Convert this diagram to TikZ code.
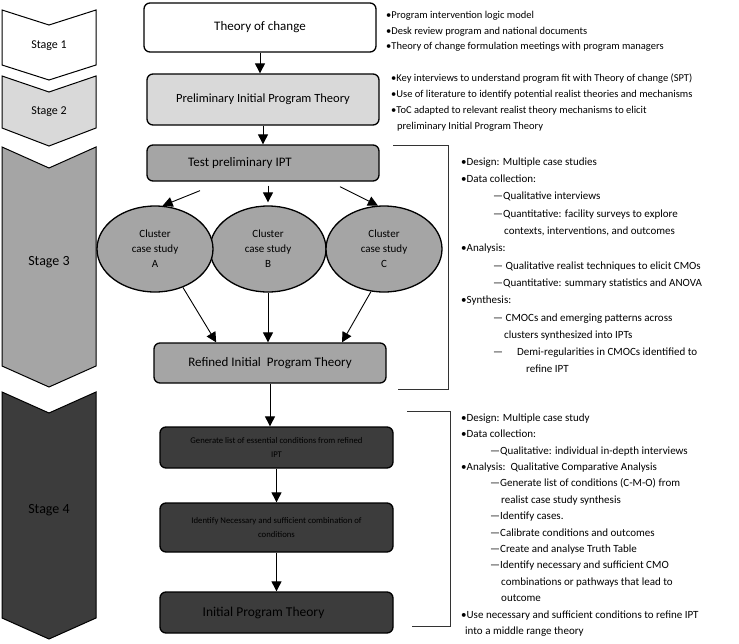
\documentclass[tikz,border=0pt]{standalone}
\usepackage{fontspec}
\setmainfont{Carlito}
\usepackage{tikz}
\usetikzlibrary{
  positioning,
  arrows.meta,
  shapes.geometric,
  calc
}
\definecolor{stagelight}{HTML}{D9D9D9}
\definecolor{stagemid}{HTML}{A5A5A5}
\definecolor{stagedark}{HTML}{3C3C3C}
\tikzset{
  flowarrow/.style={-{Triangle[length=10pt,width=10pt]},line width=0.9pt},
  theorybox/.style={rectangle,draw,rounded corners=6pt,line width=1.3pt,align=center,minimum width=232pt,inner sep=3pt},
  darkbox/.style={theorybox,fill=stagedark,text=black,minimum width=233pt},
  clusternode/.style={ellipse,draw,line width=1.3pt,fill=stagemid,align=center,minimum width=116pt,minimum height=86pt,inner sep=0pt,font=\fontsize{11}{15}\selectfont},
  chevron/.style={draw,line width=1pt},
  stagelabel/.style={font=\fontsize{12}{14}\selectfont},
  notes/.style={anchor=north west,align=left,inner sep=0pt},
  bracketline/.style={line width=0.9pt,black!80}
}

\begin{document}
\begin{tikzpicture}[x=1pt,y=-1pt,node distance=60pt,on grid]
    \useasboundingbox (0,0) rectangle (739,643);

    % stage chevrons
    \draw[chevron,fill=white] (2,10) -- (49,25) -- (96,10) -- (96,65) -- (49,80) -- (2,65) -- cycle;
    \draw[chevron,fill=stagelight] (2,76) -- (49,92) -- (96,76) -- (96,128) -- (49,146) -- (2,128) -- cycle;
    \draw[chevron,fill=stagemid] (2,147) -- (49,168) -- (96,147) -- (96,366) -- (49,387) -- (2,366) -- cycle;
    \draw[chevron,fill=stagedark] (2,392) -- (49,413) -- (96,392) -- (96,618) -- (49,639) -- (2,618) -- cycle;
    \node[stagelabel] (stageone) at (49,46) {Stage 1};
    \node[stagelabel] (stagetwo) at (49,112) {Stage 2};
    \node[stagelabel,font=\fontsize{14}{16}\selectfont] (stagethree) at (49,262) {Stage 3};
    \node[stagelabel,font=\fontsize{14}{16}\selectfont,text=black] (stagefour) at (49,510) {Stage 4};

    % main column
    \node[theorybox,fill=white,minimum height=49pt,font=\fontsize{13}{15}\selectfont] (toc) at (260,27.5) {Theory of change};
    \node[theorybox,fill=stagelight,minimum height=51pt,below=72pt of toc,xshift=3pt,font=\fontsize{12.5}{15}\selectfont] (prelim) {Preliminary Initial Program Theory};
    \node[theorybox,fill=stagemid,minimum height=36pt,below=63.5pt of prelim,font=\fontsize{13}{15}\selectfont] (test) {Test preliminary IPT\hspace*{46pt}};
    \node[clusternode,below=86pt of test,xshift=5pt] (clusterB) {Cluster\\case study\\B};
    \node[clusternode,left=113pt of clusterB] (clusterA) {Cluster\\case study\\A};
    \node[clusternode,right=116pt of clusterB] (clusterC) {Cluster\\case study\\C};
    \node[theorybox,fill=stagemid,minimum height=40pt,below=200pt of test,xshift=7pt,font=\fontsize{13}{15}\selectfont] (refined) {Refined Initial~ Program Theory};
    \node[darkbox,minimum height=41pt,below=84.5pt of refined,xshift=6.5pt,font=\fontsize{8.7}{14}\selectfont] (conditions) {Generate list of essential conditions from refined\\IPT};
    \node[darkbox,minimum height=49pt,below=80pt of conditions,font=\fontsize{8.7}{14}\selectfont] (combination) {Identify Necessary and sufficient combination of\\conditions};
    \node[darkbox,minimum height=41pt,below=85pt of combination,font=\fontsize{13.5}{15}\selectfont] (ipt) {Initial Program Theory\hspace*{26pt}};

    \coordinate (splitA) at ($(test.south)+(-63,9)$);
    \coordinate (splitB) at ($(test.south)+(5,4)$);
    \coordinate (splitC) at ($(test.south)+(77,5)$);

    \draw[flowarrow] (toc.south) -- (toc.south |- prelim.north);
    \draw[flowarrow] (prelim.south) -- (prelim.south |- test.north);
    \draw[flowarrow] (splitA) -- (clusterA.80);
    \draw[flowarrow,shorten >=3pt] (splitB) -- (clusterB.north);
    \draw[flowarrow] (splitC) -- (clusterC.98);
    \draw[flowarrow] (clusterA.-54) -- (refined.159);
    \draw[flowarrow] (clusterB.south) -- (clusterB.south |- refined.north);
    \draw[flowarrow] (clusterC.-107) -- (refined.16);
    \draw[flowarrow] (refined.south) -- (refined.south |- conditions.north);
    \draw[flowarrow] (conditions.south) -- (conditions.south |- combination.north);
    \draw[flowarrow] (combination.south) -- (combination.south |- ipt.north);

    % brackets
    \draw[bracketline] (393,145) -- (448,145) -- (448,389) -- (398,389);
    \draw[bracketline] (407,411) -- (450,411) -- (450,626) -- (412,626);

    % notes
    \node[notes,font=\fontsize{10.5}{15.5}\selectfont] (tocnotes) at (386,11.5) {%
      •Program intervention logic model\\
      •Desk review program and national documents\\
      •Theory of change formulation meetings with program managers};
    \node[notes,font=\fontsize{10.5}{16}\selectfont] (prelimnotes) at (391,73.5) {%
      •Key interviews to understand program fit with Theory of change (SPT)\\
      •Use of literature to identify potential realist theories and mechanisms\\
      •ToC adapted to relevant realist theory mechanisms to elicit\\
      \hspace*{6pt}preliminary Initial Program Theory};
    \node[notes,font=\fontsize{11}{17.3}\selectfont] (stagethreenotes) at (461,157.5) {%
      •Design: Multiple case studies\\
      •Data collection:\\
      \hspace*{32pt}—Qualitative interviews\\
      \hspace*{32pt}—Quantitative: facility surveys to explore\\
      \hspace*{43pt}contexts, interventions, and outcomes\\
      •Analysis:\\
      \hspace*{32pt}— Qualitative realist techniques to elicit CMOs\\
      \hspace*{32pt}—Quantitative: summary statistics and ANOVA\\
      •Synthesis:\\
      \hspace*{32pt}— CMOCs and emerging patterns across\\
      \hspace*{43pt}clusters synthesized into IPTs\\
      \hspace*{32pt}—\hspace*{14pt}Demi-regularities in CMOCs identified to\\
      \hspace*{65pt}refine IPT};
    \node[notes,font=\fontsize{11}{16.4}\selectfont] (stagefournotes) at (461,413.5) {%
      •Design: Multiple case study\\
      •Data collection:\\
      \hspace*{29pt}—Qualitative: individual in-depth interviews\\
      •Analysis:\ \ Qualitative Comparative Analysis\\
      \hspace*{29pt}—Generate list of conditions (C-M-O) from\\
      \hspace*{40pt}realist case study synthesis\\
      \hspace*{29pt}—Identify cases.\\
      \hspace*{29pt}—Calibrate conditions and outcomes\\
      \hspace*{29pt}—Create and analyse Truth Table\\
      \hspace*{29pt}—Identify necessary and sufficient CMO\\
      \hspace*{40pt}combinations or pathways that lead to\\
      \hspace*{40pt}outcome\\
      •Use necessary and sufficient conditions to refine IPT\\
      \hspace*{4pt}into a middle range theory};
\end{tikzpicture}
\end{document}
